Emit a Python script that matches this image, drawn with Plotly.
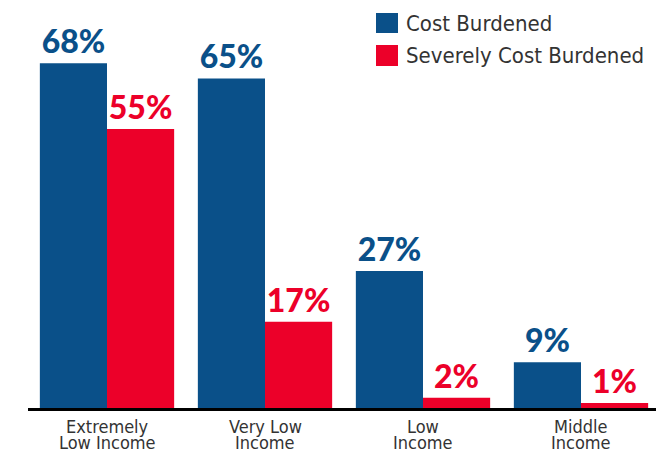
import plotly.graph_objects as go

categories = ["Extremely Low Income", "Very Low Income", "Low Income", "Middle Income"]
tick_line1 = ["Extremely", "Very Low", "Low", "Middle"]
tick_line2 = ["Low Income", "Income", "Income", "Income"]
cost_burdened = [68, 65, 27, 9]
severely_burdened = [55, 17, 2, 1]
series_names = ["Cost Burdened", "Severely Cost Burdened"]

BLUE = "#0a5089"
RED = "#ec0029"
COND = "DejaVu Sans Condensed, Roboto, sans-serif"

fig = go.Figure()
for name, vals, col in [(series_names[0], cost_burdened, BLUE), (series_names[1], severely_burdened, RED)]:
    fig.add_trace(go.Bar(
        x=categories, y=vals, name=name, marker=dict(color=col, line=dict(width=0)),
        text=[f"{v}%" for v in vals], textposition="outside", cliponaxis=False,
        textfont=dict(family="Lato", size=32, color=col, weight=900),
        showlegend=False,
    ))

# page is offset by 8px body margin
OFF = 8
W, H = 664 - OFF, 450 - OFF
L, R, T, B = 20, 4, 43, 42
pw, ph = W - L - R, H - T - B

def px(x):
    return (x - OFF - L) / pw

def py(y):
    return (H - B - (y - OFF)) / ph

legend_rows = [(series_names[0], BLUE, 13, 33), (series_names[1], RED, 45, 66)]
shapes = []
annotations = []
for name, col, y0, y1 in legend_rows:
    shapes.append(dict(type="rect", xref="paper", yref="paper", x0=px(376), x1=px(398),
                       y0=py(y1), y1=py(y0), fillcolor=col, line=dict(width=0)))
    annotations.append(dict(xref="paper", yref="paper", x=px(404), y=py((y0 + y1) / 2),
                            xanchor="left", yanchor="middle", text=name, showarrow=False,
                            font=dict(family=COND, size=22, color="#333333")))

for cat, l1, l2 in zip(categories, tick_line1, tick_line2):
    for txt, shift in [(l1, -6), (l2, -22)]:
        annotations.append(dict(xref="x", yref="y", x=cat, y=0, xanchor="center", yanchor="top",
                                yshift=shift, text=txt, showarrow=False,
                                font=dict(family=COND, size=18, color="#333333")))

fig.update_layout(
    width=W, height=H, margin=dict(l=L, r=R, t=T, b=B, autoexpand=False),
    plot_bgcolor="white", paper_bgcolor="white",
    barmode="group", bargap=0.15, bargroupgap=0,
    shapes=shapes, annotations=annotations,
    xaxis=dict(showline=True, linecolor="black", linewidth=3, ticks="", showgrid=False,
               showticklabels=False, automargin=False),
    yaxis=dict(range=[0, 70.4], visible=False, showgrid=False, zeroline=False, automargin=False),
)

fig.write_html("out.html")
